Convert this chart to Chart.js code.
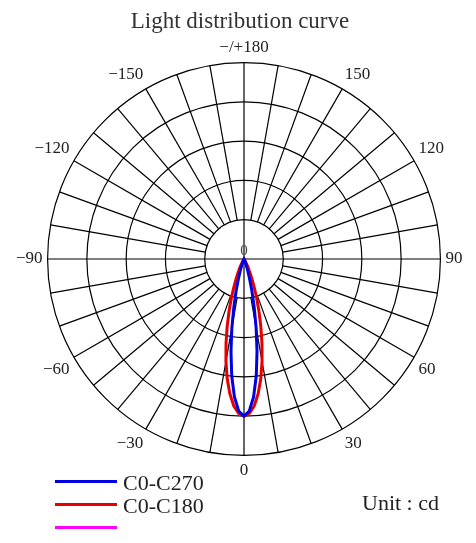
<!DOCTYPE html>
<html>
<head>
<meta charset="utf-8">
<script src="https://cdn.jsdelivr.net/npm/chart.js@4"></script>
<style>
  body { margin: 0; background: #fff; }
  #wrap { position: relative; width: 476px; height: 543px; overflow: hidden; }
  #lightChart { position: absolute; left: 0; top: 0; }
  .key { position: absolute; left: 55px; width: 62px; height: 3px; }
  .txt { position: absolute; font-family: "Liberation Serif", serif; font-size: 22px; color: #222; line-height: 22px; }
</style>
</head>
<body>
<div id="wrap">
  <canvas id="lightChart" width="476" height="543"></canvas>
  <div class="key" style="top:480px;background:#0000e6"></div>
  <div class="txt" style="left:123px;top:472px">C0-C270</div>
  <div class="key" style="top:503px;background:#e60000"></div>
  <div class="txt" style="left:123px;top:495px">C0-C180</div>
  <div class="key" style="top:526px;background:#ff00ff"></div>
  <div class="txt" style="left:362px;top:492px">Unit : cd</div>
</div>
<script>
// polar grid: one radar spoke every 2 degrees, rings every 50 cd-units
const angleStep = 2;
const ringStep = 50;
const maxValue = 250;

// lobes are symmetric, intensity read against the angle off 0 (straight down)
const profileAngles = [0, 2, 4, 6, 8, 10, 12, 14, 16, 18, 20, 22, 24, 26, 28, 30, 32, 34, 36];
const c270Values = [200, 193.6, 175.7, 149.5, 119.1, 88.9, 62, 40.5, 24.6, 14, 7.4, 3.6, 1.7, 0.7, 0.3, 0.1, 0, 0, 0];
const c180Values = [200, 196.7, 187.3, 172.4, 153.6, 132.3, 110.1, 88.6, 68.8, 51.6, 37.3, 26, 17.4, 11.2, 6.9, 4.1, 2.3, 1.3, 0.6];

// index 0 is at the bottom, going clockwise: left is -90, top is -/+180, right is 90
const angleLabels = [];
for (let deg = 0; deg < 360; deg += angleStep) {
  if (deg === 180) angleLabels.push("\u2212/+180");
  else if (deg < 180) angleLabels.push(deg === 0 ? "0" : "\u2212" + deg);
  else angleLabels.push(String(360 - deg));
}

const offAxis = (i) => {
  const deg = i * angleStep;
  return deg <= 180 ? deg : 360 - deg;
};

const lobe = (values) =>
  angleLabels.map((_, i) => {
    const k = profileAngles.indexOf(offAxis(i));
    return k === -1 ? 0 : values[k];
  });

const spokes = {
  id: "spokes",
  beforeDatasetsDraw(chart) {
    const scale = chart.scales.r;
    const ctx = chart.ctx;
    ctx.save();
    ctx.strokeStyle = "#000";
    ctx.lineWidth = 1.2;
    angleLabels.forEach((_, i) => {
      const deg = i * angleStep;
      if (deg % 10) return;
      // only the main cross goes through the middle ring
      const from = deg % 90 === 0 ? 0 : ringStep;
      const a = scale.getPointPositionForValue(i, from);
      const b = scale.getPointPositionForValue(i, maxValue);
      ctx.beginPath();
      ctx.moveTo(a.x, a.y);
      ctx.lineTo(b.x, b.y);
      ctx.stroke();
    });
    ctx.fillStyle = "#444";
    ctx.font = "15px 'Liberation Serif'";
    ctx.textAlign = "center";
    ctx.textBaseline = "middle";
    ctx.fillText("0", scale.xCenter, scale.yCenter - 8);
    ctx.restore();
  },
};

const data = {
  labels: angleLabels,
  datasets: [
    {
      label: "C0-C270",
      data: lobe(c270Values),
      borderColor: "#0000e6",
      borderWidth: 3,
      pointRadius: 0,
      fill: false,
    },
    {
      label: "C0-C180",
      data: lobe(c180Values),
      borderColor: "#e60000",
      borderWidth: 3,
      pointRadius: 0,
      fill: false,
    },
  ],
};

const options = {
  responsive: false,
  devicePixelRatio: 1,
  animation: false,
  layout: { padding: { top: 0, left: 12, right: 8, bottom: 58 } },
  plugins: {
    legend: { display: false },
    tooltip: { enabled: false },
    title: {
      display: true,
      text: "Light distribution curve",
      color: "#333",
      font: { family: "'Liberation Serif'", size: 23, weight: "normal", lineHeight: 1 },
      padding: { top: 10, bottom: 0 },
    },
  },
  scales: {
    r: {
      startAngle: 180,
      min: 0,
      max: maxValue,
      ticks: { stepSize: ringStep, display: false },
      grid: { circular: true, color: "#000", lineWidth: 1.2 },
      angleLines: { display: false },
      pointLabels: {
        display: true,
        padding: 5,
        color: "#222",
        font: { family: "'Liberation Serif'", size: 17 },
        callback: (label, i) => ((i * angleStep) % 30 === 0 ? label : ""),
      },
    },
  },
};

new Chart("lightChart", { type: "radar", data, options, plugins: [spokes] });
</script>
</body>
</html>
